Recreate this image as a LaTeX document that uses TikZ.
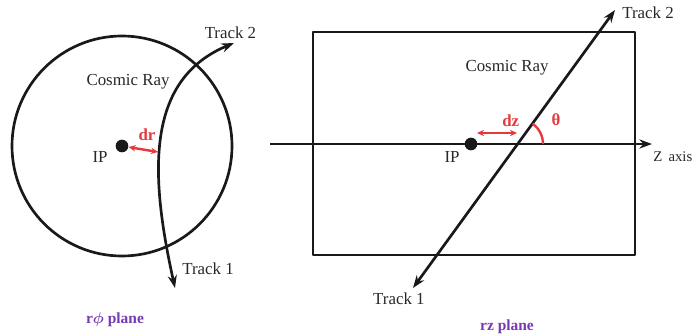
\documentclass[tikz,border=0pt]{standalone}
\usepackage{fontspec}
\setmainfont{Liberation Serif}
\usetikzlibrary{arrows.meta,positioning}
\definecolor{crimson}{RGB}{228,58,62}
\definecolor{planeviolet}{RGB}{118,58,178}
\definecolor{inkgray}{RGB}{40,40,40}
\tikzset{
  frame/.style={line width=1.9pt,draw=black!90},
  trk/.style={line width=1.9pt,draw=black!90,{Stealth[length=9pt,width=6.5pt]}-{Stealth[length=9pt,width=6.5pt]}},
  zline/.style={line width=1.9pt,draw=black!90,-{Stealth[length=9pt,width=6.5pt]}},
  dist/.style={line width=1.7pt,draw=crimson,{Stealth[length=5pt,width=4.5pt]}-{Stealth[length=5pt,width=4.5pt]}},
  ipdot/.style={circle,fill=black!90,inner sep=0pt,minimum size=9pt},
  lbl/.style={font=\fontsize{12}{14}\selectfont,text=inkgray,inner sep=1pt},
  redlbl/.style={font=\fontsize{12}{14}\selectfont\bfseries,text=crimson,inner sep=1pt},
  planelbl/.style={font=\fontsize{11}{13}\selectfont\bfseries,text=planeviolet,inner sep=1pt}
}

\begin{document}
\begin{tikzpicture}[x=0.025cm,y=0.025cm,>=Stealth,line join=round]
\useasboundingbox (0,0) rectangle (694,335);
% --- r-phi view: detector circle, curved cosmic track through it
\begin{scope}
\draw[frame] (122,189) circle (110);
\node[ipdot] (ipL) at (122,189) {};
\node[lbl] (ipLtxt) at (100,178) {IP};
\coordinate (t1L) at (175,47); \coordinate (t2L) at (234,292);
\draw[trk] (t1L) .. controls (150,160) and (145,255) .. (t2L);
\coordinate (drEnd) at (158,183);
\draw[dist] (ipL) -- (drEnd);
\node[redlbl] (drtxt) at (147,200) {dr};
\node[lbl] (cosmicL) at (128,253) {Cosmic Ray};
\node[lbl,above right=2pt and -22pt of t2L] (t2Ltxt) {Track 2};
\node[lbl,above right=8pt and 4pt of t1L] (t1Ltxt) {Track 1};
\node[planelbl] (planeL) at (115,15) {r{\boldmath$\phi$} plane};
\end{scope}
% --- r-z view: box, straight track crossing the beam axis
\begin{scope}
\draw[frame] (313,80) rectangle (635,303);
\coordinate (zBeg) at (270,191); \coordinate (zEnd) at (652,191);
\draw[zline] (zBeg) -- (zEnd);
\node[lbl,anchor=east,font=\fontsize{10.5}{12}\selectfont] (ztxt) at (694,178) {Z\, axis};
\node[ipdot] (ipR) at (471,191) {};
\node[lbl] (ipRtxt) at (452,178) {IP};
\coordinate (t1R) at (413,47); \coordinate (t2R) at (615,325);
\draw[trk] (t1R) -- (t2R);
\coordinate (xR) at (518,191);
\draw[line width=1.7pt,crimson] ([shift={(25,0)}]xR) arc[start angle=0,end angle=54,radius=25];
\node[redlbl] (thtxt) at (556,215) {θ};
\coordinate (dzA) at (477,202); \coordinate (dzB) at (517,202);
\draw[dist] (dzA) -- (dzB);
\node[redlbl,above=3pt of dzA,xshift=24] (dztxt) {dz};
\node[lbl] (cosmicR) at (507,267) {Cosmic Ray};
\node[lbl,right=4pt of t2R,yshift=-2pt] (t2Rtxt) {Track 2};
\node[lbl,below=2pt of t1R,xshift=-10pt] (t1Rtxt) {Track 1};
\node[planelbl] (planeR) at (507,8) {rz plane};
\end{scope}
\end{tikzpicture}
\end{document}
